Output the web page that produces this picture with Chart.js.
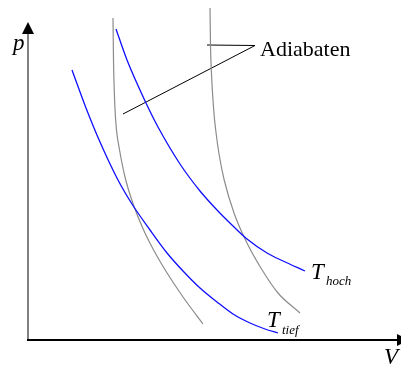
<!DOCTYPE html>
<html>
<head>
<meta charset="utf-8">
<title>p-V-Diagramm</title>
<script src="https://cdn.jsdelivr.net/npm/chart.js@4"></script>
<style>
  html, body { margin: 0; padding: 0; background: #fff; }
  canvas { display: block; }
</style>
</head>
<body>
<canvas id="pv" width="401" height="365"></canvas>
<script>
// Isotherme bei tiefer Temperatur
const tiefV = [44, 58, 72, 90, 104, 122, 139, 155, 172, 189, 205, 222, 237, 250];
const tiefP = [270, 232, 198, 160, 136, 110, 87, 69, 52, 38, 26, 17, 11, 7];

// Isotherme bei hoher Temperatur
const hochV = [88, 99, 118, 130, 152, 172, 189, 205, 219, 239, 255, 277];
const hochP = [311, 280, 237, 213, 176, 149, 130, 114, 101, 87, 79, 69];

// die beiden Adiabaten
const adia1V = [85, 85.5, 86.8, 88.5, 91.2, 97, 104.8, 115.6, 125.6, 137.8, 155, 175];
const adia1P = [322, 280, 235, 210, 192, 163, 137, 110, 90, 69, 43, 16];
const adia2V = [182, 182.5, 183.3, 185.7, 187.7, 191.2, 196.2, 206, 217.5, 232.3, 250, 272];
const adia2P = [332, 295, 270, 230, 210, 185, 160, 127, 100, 73, 47, 27];

// Hinweislinie zum Text "Adiabaten"
const pointerV = [179, 227, 95];
const pointerP = [295, 294.5, 226];

const vMax = 372, pMax = 340;

function pts(xs, ys) {
  return xs.map((x, i) => ({ x: x, y: ys[i] }));
}

function curve(xs, ys, color, width) {
  return {
    data: pts(xs, ys),
    borderColor: color,
    borderWidth: width,
    pointRadius: 0,
    cubicInterpolationMode: 'monotone',
    fill: false,
    showLine: true
  };
}

// Achsen mit Pfeilspitzen und die Beschriftungen
const axesPlugin = {
  id: 'axes',
  afterDatasetsDraw(chart) {
    const ctx = chart.ctx;
    const xs = chart.scales.x, ys = chart.scales.y;
    const px = v => xs.getPixelForValue(v);
    const py = p => ys.getPixelForValue(p);
    const x0 = px(0), y0 = py(0);

    ctx.save();
    // p-Achse
    ctx.strokeStyle = '#808080';
    ctx.lineWidth = 2;
    ctx.beginPath();
    ctx.moveTo(x0, y0);
    ctx.lineTo(x0, py(306));
    ctx.stroke();
    ctx.fillStyle = '#000';
    ctx.beginPath();
    ctx.moveTo(x0, py(318));
    ctx.lineTo(x0 - 6, py(306));
    ctx.lineTo(x0 + 6, py(306));
    ctx.closePath();
    ctx.fill();

    // V-Achse
    ctx.strokeStyle = '#000';
    ctx.beginPath();
    ctx.moveTo(x0 - 1, y0);
    ctx.lineTo(px(369), y0);
    ctx.stroke();
    ctx.beginPath();
    ctx.moveTo(px(381), y0);
    ctx.lineTo(px(369), y0 - 6);
    ctx.lineTo(px(369), y0 + 6);
    ctx.closePath();
    ctx.fill();

    ctx.fillStyle = '#000';
    ctx.textBaseline = 'alphabetic';
    ctx.textAlign = 'left';
    const serif = '"Liberation Serif", "DejaVu Serif", serif';

    ctx.font = 'italic 23px ' + serif;
    ctx.fillText('p', px(-15), py(290));
    ctx.fillText('V', px(356), py(-24));

    ctx.font = '22px ' + serif;
    ctx.fillText('Adiabaten', px(232), py(284));

    ctx.font = 'italic 23px ' + serif;
    ctx.fillText('T', px(283), py(61));
    ctx.fillText('T', px(239), py(13));
    ctx.font = 'italic 13px ' + serif;
    ctx.fillText('hoch', px(298), py(55));
    ctx.fillText('tief', px(254), py(6));
    ctx.restore();
  }
};

new Chart(document.getElementById('pv'), {
  type: 'scatter',
  data: {
    datasets: [
      curve(tiefV, tiefP, '#0f0fff', 1.3),
      curve(hochV, hochP, '#0f0fff', 1.3),
      curve(adia1V, adia1P, '#8c8c8c', 1.2),
      curve(adia2V, adia2P, '#8c8c8c', 1.2),
      Object.assign(curve(pointerV, pointerP, '#000', 1), { cubicInterpolationMode: 'default', tension: 0 })
    ]
  },
  options: {
    responsive: false,
    animation: false,
    devicePixelRatio: 1,
    layout: { padding: { left: 28, right: 1, top: 0, bottom: 25 } },
    scales: {
      x: { type: 'linear', min: 0, max: vMax, display: false },
      y: { type: 'linear', min: 0, max: pMax, display: false }
    },
    plugins: {
      legend: { display: false },
      tooltip: { enabled: false }
    }
  },
  plugins: [axesPlugin]
});
</script>
</body>
</html>
